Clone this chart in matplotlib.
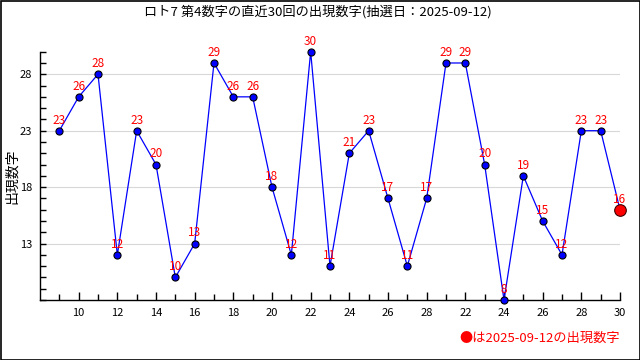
import matplotlib
matplotlib.use("Agg")
import matplotlib.pyplot as plt
from matplotlib.patches import Rectangle

plt.rcParams['font.family'] = ['Noto Sans CJK JP', 'DejaVu Sans']

title = "ロト7 第4数字の直近30回の出現数字(抽選日：2025-09-12)"
ylabel = "出現数字"
legend_text = "●は2025-09-12の出現数字"
draws = list(range(1, 31))
values = [23, 26, 28, 12, 23, 20, 10, 13, 29, 26, 26, 18, 12, 30, 11,
          21, 23, 17, 11, 17, 29, 29, 20, 8, 19, 15, 12, 23, 23, 16]
xtick_pos = list(range(2, 31, 2))
xtick_labels = ['10', '12', '14', '16', '18', '20', '22', '24', '26', '28',
                '22', '24', '26', '28', '30']
ytick_pos = [13, 18, 23, 28]

fig = plt.figure(figsize=(6.4, 3.6), dpi=100)
ax = fig.add_axes([40/640, 1-300/360, 580/640, (300-51.7)/360])

ax.set_xlim(0, 30)
ax.set_ylim(8, 30)

for y in ytick_pos:
    ax.axhline(y, color='#d8d8d8', lw=0.8, zorder=0)

ax.plot(draws, values, color='blue', lw=0.9, zorder=2)
ax.scatter(draws[:-1], values[:-1], s=26, facecolor='blue', edgecolor='black',
           linewidths=0.8, zorder=3, clip_on=False)
ax.scatter(draws[-1:], values[-1:], s=70, facecolor='red', edgecolor='#400000',
           linewidths=0.8, zorder=4, clip_on=False)

for x, v in zip(draws, values):
    ax.annotate(str(v), (x, v), xytext=(0, 7.7), textcoords='offset points',
                ha='center', va='center', color='red', fontsize=8.5, zorder=5,
                annotation_clip=False)

ax.spines['top'].set_visible(False)
ax.spines['right'].set_visible(False)
ax.spines['left'].set_linewidth(1)
ax.spines['bottom'].set_linewidth(1)

ax.set_xticks(xtick_pos)
ax.set_xticklabels(xtick_labels)
ax.set_xticks(draws, minor=True)
ax.set_yticks(ytick_pos)
ax.set_yticks(range(8, 31), minor=True)
ax.tick_params(axis='x', which='major', direction='in', length=6, width=1,
               labelsize=8, pad=6)
ax.tick_params(axis='x', which='minor', direction='in', length=4, width=1)
ax.tick_params(axis='y', which='both', direction='in', length=4, width=1,
               labelsize=8, pad=5.5)

fig.text(12/640, 1-176/360, ylabel, rotation=90, ha='center', va='center',
         fontsize=10)
fig.text(318/640, 1-12/360, title, ha='center', va='center', fontsize=9.5)
fig.text(620/640, 1-338/360, legend_text, ha='right', va='center',
         fontsize=9.5, color='red')

fig.patches.append(Rectangle((0.5/640, 0.5/360), 1-1/640, 1-1/360,
                             transform=fig.transFigure, fill=False,
                             edgecolor='black', lw=1.2))

fig.savefig('out.png', dpi=100)
